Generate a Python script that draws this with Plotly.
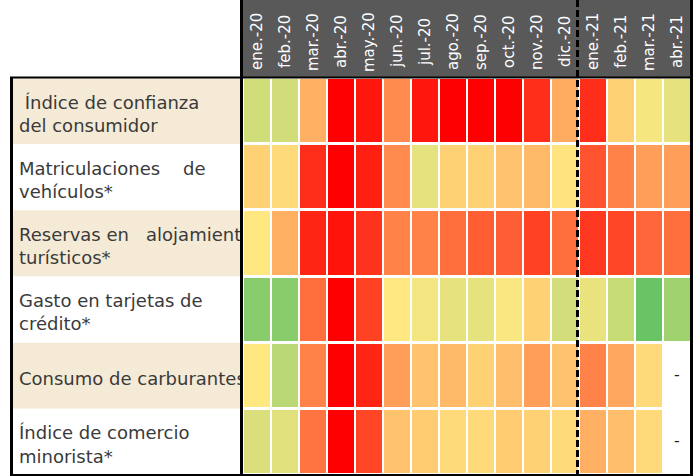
import plotly.graph_objects as go

W, H = 695, 476

months = ["ene.-20", "feb.-20", "mar.-20", "abr.-20", "may.-20", "jun.-20", "jul.-20", "ago.-20",
          "sep.-20", "oct.-20", "nov.-20", "dic.-20", "ene.-21", "feb.-21", "mar.-21", "abr.-21"]

NB = "\u00a0"
indicators = [
    NB + "Índice de confianza<br>del consumidor",
    "Matriculaciones" + NB * 4 + "de<br>vehículos*",
    "Reservas en" + NB * 3 + "alojamientos<br>turísticos*",
    "Gasto en tarjetas de<br>crédito*",
    "Consumo de carburantes",
    "Índice de comercio<br>minorista*",
]

# Semaphore score: 0 = red (worst), 0.5 = yellow, 1 = green (best)
confianza     = [0.65, 0.65, 0.38, 0.00, 0.05, 0.30, 0.05, 0.00, 0.00, 0.00, 0.10, 0.37, 0.10, 0.45, 0.53, 0.58]
matriculas    = [0.45, 0.47, 0.10, 0.00, 0.07, 0.30, 0.58, 0.45, 0.45, 0.42, 0.40, 0.49, 0.18, 0.28, 0.34, 0.34]
reservas      = [0.50, 0.38, 0.08, 0.04, 0.11, 0.28, 0.28, 0.24, 0.20, 0.20, 0.14, 0.24, 0.12, 0.15, 0.22, 0.24]
tarjetas      = [0.88, 0.88, 0.24, 0.00, 0.14, 0.50, 0.54, 0.58, 0.58, 0.52, 0.45, 0.64, 0.57, 0.68, 0.98, 0.80]
carburantes   = [0.50, 0.72, 0.28, 0.00, 0.08, 0.34, 0.42, 0.40, 0.45, 0.41, 0.34, 0.42, 0.28, 0.36, 0.47, None]
comercio      = [0.62, 0.60, 0.25, 0.00, 0.15, 0.42, 0.44, 0.47, 0.47, 0.44, 0.45, 0.47, 0.38, 0.41, 0.47, None]

z = [confianza, matriculas, reservas, tarjetas, carburantes, comercio]

FONT = "DejaVu Sans"
BEIGE = "#F5EAD6"
GRAY = "#595959"


def px(x):
    return x / W


def py(y):
    return 1 - y / H


fig = go.Figure()

# heatmap grid
fig.add_trace(go.Heatmap(
    z=z, x=list(range(len(months))), y=list(range(len(indicators))),
    colorscale=[[0, "#FF0000"], [0.5, "#FFE882"], [1, "#63C364"]],
    zmin=0, zmax=1, showscale=False, xgap=2, ygap=3, hoverinfo="skip",
    xaxis="x", yaxis="y",
))

# "-" for missing values
mx, my = [], []
for r, row in enumerate(z):
    for c, v in enumerate(row):
        if v is None:
            mx.append(c)
            my.append(r)
fig.add_trace(go.Scatter(
    x=mx, y=my, mode="text", text=["-"] * len(mx),
    textfont=dict(family=FONT, size=16, color="#222222"),
    hoverinfo="skip", xaxis="x", yaxis="y", showlegend=False,
))

# row labels panel
fig.add_trace(go.Scatter(
    x=[7] * len(indicators), y=[r + 0.07 for r in range(len(indicators))], mode="text",
    text=indicators, textposition="middle right",
    textfont=dict(family=FONT, size=18, color="#3A3A3A"),
    cliponaxis=True, hoverinfo="skip", xaxis="x2", yaxis="y2", showlegend=False,
))

shapes = []
for r in range(len(indicators)):
    shapes.append(dict(type="rect", xref="x2", yref="y2", x0=0, x1=231, y0=r - 0.5, y1=r + 0.5,
                       fillcolor=BEIGE if r % 2 == 0 else "white", line_width=0, layer="below"))

# header
shapes.append(dict(type="rect", xref="paper", yref="paper", x0=px(241), x1=px(691), y0=py(77), y1=1,
                   fillcolor=GRAY, line_width=0, layer="above"))


def line(x0, y0, x1, y1, w=3, dash="solid"):
    shapes.append(dict(type="line", xref="paper", yref="paper", x0=px(x0), x1=px(x1), y0=py(y0), y1=py(y1),
                       line=dict(color="black", width=w, dash=dash), layer="above"))


line(241.5, 0, 241.5, 476)        # grid left border
line(691.5, 0, 691.5, 476)        # right border
line(10, 77.5, 693, 77.5, w=2)    # table top
line(10, 475, 693, 475, w=2)      # table bottom
line(11.5, 77, 11.5, 476)         # label panel left border
line(577.5, 0, 577.5, 476, dash="7px,3px")  # 2020 / 2021 separator

annotations = []
for i, m in enumerate(months):
    annotations.append(dict(x=i, xref="x", y=py(42), yref="paper", text=m, showarrow=False,
                            textangle=-90, font=dict(family=FONT, size=15, color="white"),
                            xanchor="center", yanchor="middle"))

fig.update_layout(
    width=W, height=H, autosize=False,
    margin=dict(l=0, r=0, t=0, b=0),
    paper_bgcolor="white", plot_bgcolor="white",
    showlegend=False,
    xaxis=dict(domain=[px(243), px(691)], range=[-0.5, 15.5], visible=False, fixedrange=True),
    yaxis=dict(domain=[py(475), py(78)], range=[5.5, -0.5], visible=False, fixedrange=True),
    xaxis2=dict(domain=[px(12), px(243)], range=[0, 231], visible=False, anchor="y2", fixedrange=True),
    yaxis2=dict(domain=[py(475), py(78)], range=[5.5, -0.5], visible=False, anchor="x2", fixedrange=True),
    shapes=shapes,
    annotations=annotations,
)

fig.write_html("out.html", config={"displayModeBar": False},
               post_script="document.body.style.margin='0';")
